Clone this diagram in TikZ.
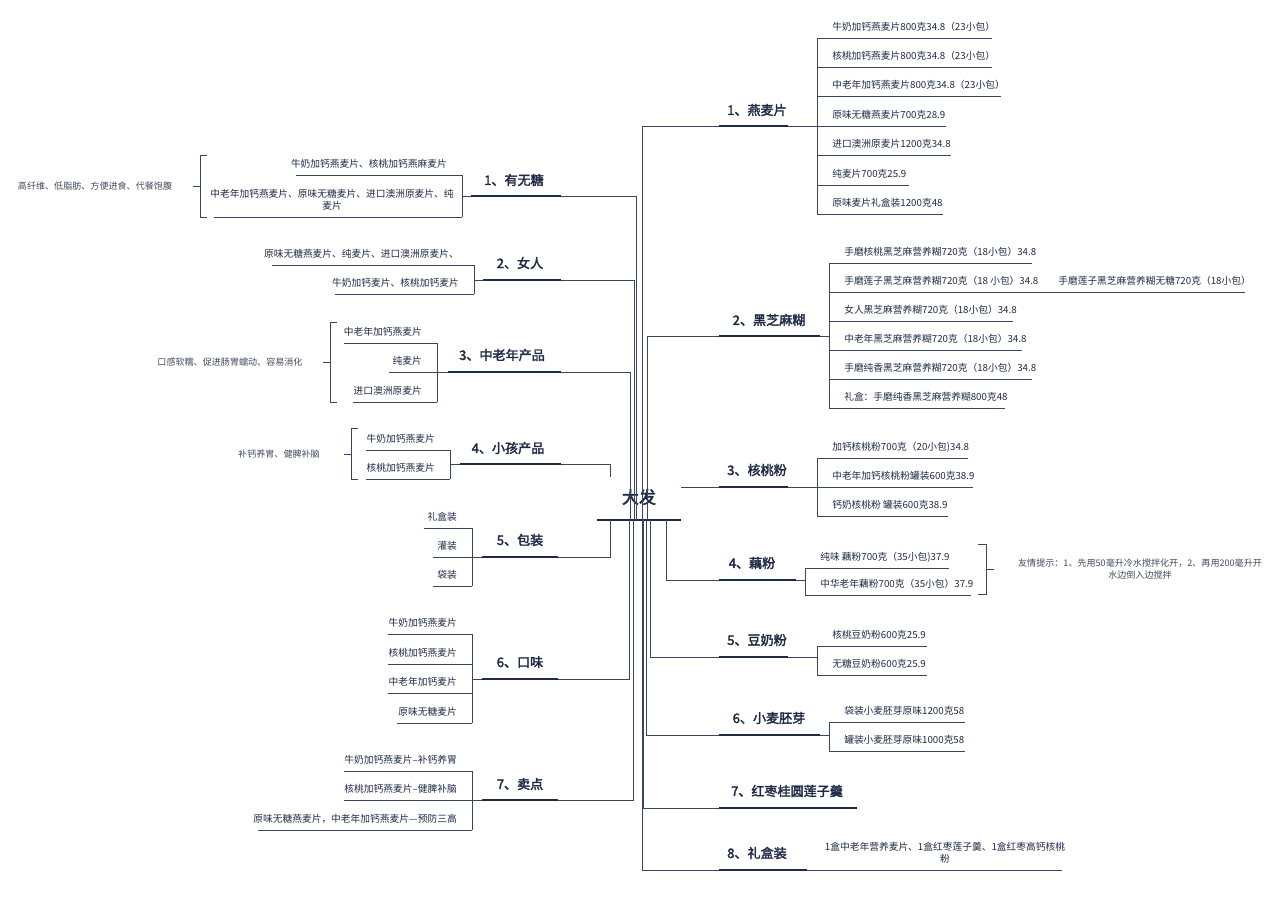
\documentclass[tikz,border=0pt]{standalone}
\usepackage{fontspec}
\setmainfont{Noto Sans CJK SC}[AutoFakeBold=2.5]
\newfontfamily\noteit{Noto Sans CJK SC}[AutoFakeSlant=0.2]
\definecolor{ink}{HTML}{1F2A44}
\definecolor{thinc}{HTML}{3A4560}
\begin{document}
\begin{tikzpicture}[x=0.75pt,y=-0.75pt,
  leaf/.style={font=\fontsize{7.3}{9}\selectfont,text=ink,inner sep=0pt},
  note/.style={font=\noteit\fontsize{6.8}{8.5}\selectfont,text=ink!85,inner sep=0pt,align=center},
  br/.style={font=\bfseries\fontsize{9.8}{12}\selectfont,text=ink,inner sep=0pt},
  thk/.style={draw=ink,line width=2.2pt},
  thn/.style={draw=thinc,line width=0.6pt}]
\useasboundingbox (0,0) rectangle (1280,905);
\newcommand\myrl[4]{\node[leaf,anchor=west] at (#1+15,#2-11) {#4};\draw[thn] (#1,#2) -- (#3,#2);}
\newcommand\myll[4]{\node[leaf,anchor=east] at (#1-15,#2-11) {#4};\draw[thn] (#3,#2) -- (#1,#2);}
\newcommand\mylbr[4]{\draw[thn] (#1+7,#2) -- (#1,#2) -- (#1,#3) -- (#1+7,#3); \draw[thn] (#1,#4) -- (#1-7,#4);}
% centre
\node[br,font=\bfseries\fontsize{12.8}{15}\selectfont] (root) at (639,497) {大发};
\draw[thk] (597,520) -- (681,520);
% ===== right =====
% 1
\draw[thn] (642,520) -- (642,126) -- (817,126);
\draw[thk] (719,126) -- (788,126);
\node[br] (r1) at (757,110) {1、燕麦片};
\draw[thn] (817,38) -- (817,214);
\myrl{817}{38}{992}{牛奶加钙燕麦片800克34.8（23小包）}
\myrl{817}{67}{992}{核桃加钙燕麦片800克34.8（23小包）}
\myrl{817}{96}{1001}{中老年加钙燕麦片800克34.8（23小包）}
\myrl{817}{126}{946}{原味无糖燕麦片700克28.9}
\myrl{817}{155}{951}{进口澳洲原麦片1200克34.8}
\myrl{817}{185}{909}{纯麦片700克25.9}
\myrl{817}{214}{943}{原味麦片礼盒装1200克48}
% 2
\draw[thn] (647,520) -- (647,336) -- (829,336);
\draw[thk] (719,336) -- (820,336);
\node[br] (r2) at (769,320) {2、黑芝麻糊};
\draw[thn] (829,263) -- (829,408);
\myrl{829}{263}{1032}{手磨核桃黑芝麻营养糊720克（18小包）34.8}
\myrl{829}{292}{1245}{手磨莲子黑芝麻营养糊720克（18 小包）34.8}
\node[leaf,anchor=west] at (1058,281) {手磨莲子黑芝麻营养糊无糖720克（18小包）};
\myrl{829}{321}{1013}{女人黑芝麻营养糊720克（18小包）34.8}
\myrl{829}{350}{1022}{中老年黑芝麻营养糊720克（18小包）34.8}
\myrl{829}{379}{1032}{手磨纯香黑芝麻营养糊720克（18小包）34.8}
\myrl{829}{408}{1005}{礼盒：手磨纯香黑芝麻营养糊800克48}
% 3
\draw[thn] (681,487) -- (817,487);
\draw[thk] (719,487) -- (788,487);
\node[br] (r3) at (757,470) {3、核桃粉};
\draw[thn] (817,458) -- (817,516);
\myrl{817}{458}{968}{加钙核桃粉700克（20小包)34.8}
\myrl{817}{487}{973}{中老年加钙核桃粉罐装600克38.9}
\myrl{817}{516}{948}{钙奶核桃粉 罐装600克38.9}
% 4
\draw[thn] (666,520) -- (666,580) -- (805,580);
\draw[thk] (719,580) -- (796,580);
\node[br] (r4) at (752,563) {4、藕粉};
\draw[thn] (805,568) -- (805,595);
\myrl{805}{568}{949}{纯味 藕粉700克（35小包)37.9}
\myrl{805}{595}{971}{中华老年藕粉700克（35小包）37.9}
\draw[thn] (978,544) -- (986,544) -- (986,594) -- (978,594); \draw[thn] (986,569) -- (994,569);
\node[note] at (1140,569) {友情提示：1、先用50毫升冷水搅拌化开，2、再用200毫升开\\水边倒入边搅拌};
% 5
\draw[thn] (650,520) -- (650,657) -- (817,657);
\draw[thk] (719,657) -- (788,657);
\node[br] (r5) at (757,640) {5、豆奶粉};
\draw[thn] (817,646) -- (817,675);
\myrl{817}{646}{927}{核桃豆奶粉600克25.9}
\myrl{817}{675}{927}{无糖豆奶粉600克25.9}
% 6
\draw[thn] (646,520) -- (646,735) -- (829,735);
\draw[thk] (719,735) -- (820,735);
\node[br] (r6) at (769,718) {6、小麦胚芽};
\draw[thn] (829,722) -- (829,751);
\myrl{829}{722}{965}{袋装小麦胚芽原味1200克58}
\myrl{829}{751}{965}{罐装小麦胚芽原味1000克58}
% 7
\draw[thn] (643,520) -- (643,808) -- (719,808);
\draw[thk] (719,808) -- (857,808);
\node[br] (r7) at (787,791) {7、红枣桂圆莲子羹};
% 8
\draw[thn] (642,520) -- (642,870) -- (1062,870);
\draw[thk] (719,870) -- (807,870);
\node[br] (r8) at (757,853) {8、礼盒装};
\node[leaf,align=center] at (945,853) {1盒中老年营养麦片、1盒红枣莲子羹、1盒红枣高钙核桃\\粉};
% ===== left =====
% 1
\draw[thn] (636,520) -- (636,196) -- (462,196);
\draw[thk] (471,196) -- (561,196);
\node[br] (l1) at (514,180) {1、有无糖};
\draw[thn] (462,175) -- (462,217);
\myll{462}{175}{296}{牛奶加钙燕麦片、核桃加钙燕麻麦片}
\draw[thn] (214,217) -- (462,217);
\node[leaf,align=center] at (332,200) {中老年加钙燕麦片、原味无糖麦片、进口澳洲原麦片、纯\\麦片};
\mylbr{200}{155}{217}{186}
\node[note] at (95,186) {高纤维、低脂肪、方便进食、代餐饱腹};
% 2
\draw[thn] (634,520) -- (634,280) -- (474,280);
\draw[thk] (483,280) -- (561,280);
\node[br] (l2) at (520,263) {2、女人};
\draw[thn] (474,265) -- (474,294);
\myll{474}{265}{272}{原味无糖燕麦片、纯麦片、进口澳洲原麦片、}
\myll{474}{294}{335}{牛奶加钙麦片、核桃加钙麦片}
% 3
\draw[thn] (630,520) -- (630,372) -- (437,372);
\draw[thk] (448,372) -- (561,372);
\node[br] (l3) at (502,355) {3、中老年产品};
\draw[thn] (437,343) -- (437,402);
\myll{437}{343}{344}{中老年加钙燕麦片}
\myll{437}{372}{389}{纯麦片}
\myll{437}{402}{353}{进口澳洲原麦片}
\mylbr{330}{322}{402}{362}
\node[note] at (230,362) {口感软糯、促进肠胃蠕动、容易消化};
% 4
\draw[thn] (610,477) -- (610,464) -- (450,464);
\draw[thk] (460,464) -- (561,464);
\node[br] (l4) at (508,448) {4、小孩产品};
\draw[thn] (450,450) -- (450,479);
\myll{450}{450}{366}{牛奶加钙燕麦片}
\myll{450}{479}{366}{核桃加钙燕麦片}
\mylbr{351}{428}{479}{454}
\node[note] at (279,454) {补钙养胃、健脾补脑};
% 5
\draw[thn] (610,520) -- (610,557) -- (472,557);
\draw[thk] (482,557) -- (558,557);
\node[br] (l5) at (520,540) {5、包装};
\draw[thn] (472,528) -- (472,586);
\myll{472}{528}{424}{礼盒装}
\myll{472}{557}{433}{灌装}
\myll{472}{586}{433}{袋装}
% 6
\draw[thn] (629,520) -- (629,679) -- (472,679);
\draw[thk] (482,679) -- (558,679);
\node[br] (l6) at (520,662) {6、口味};
\draw[thn] (472,634) -- (472,723);
\myll{472}{634}{388}{牛奶加钙燕麦片}
\myll{472}{664}{388}{核桃加钙燕麦片}
\myll{472}{693}{388}{中老年加钙麦片}
\myll{472}{723}{397}{原味无糖麦片}
% 7
\draw[thn] (633,520) -- (633,800) -- (472,800);
\draw[thk] (482,800) -- (558,800);
\node[br] (l7) at (520,784) {7、卖点};
\draw[thn] (472,771) -- (472,830);
\myll{472}{771}{344}{牛奶加钙燕麦片--补钙养胃}
\myll{472}{800}{344}{核桃加钙燕麦片--健脾补脑}
\myll{472}{830}{258}{原味无糖燕麦片，中老年加钙燕麦片---预防三高}
\end{tikzpicture}
\end{document}
